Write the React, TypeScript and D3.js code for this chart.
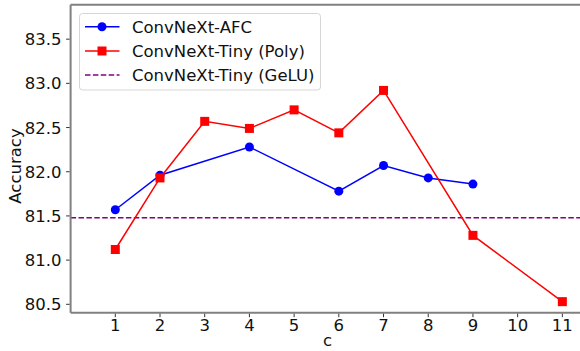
import { useEffect, useRef } from "react";
import * as d3 from "d3";

// values
const afcX: number[] = [1, 2, 4, 6, 7, 8, 9];
const afcY: number[] = [81.57, 81.96, 82.28, 81.78, 82.07, 81.93, 81.86];
const polyX: number[] = [1, 2, 3, 4, 5, 6, 7, 9, 11];
const polyY: number[] = [81.12, 81.93, 82.57, 82.49, 82.7, 82.44, 82.92, 81.28, 80.53];
const geluY = 81.48;
const xTicks: number[] = [1, 2, 3, 4, 5, 6, 7, 8, 9, 10, 11];
const yTicks: number[] = [80.5, 81.0, 81.5, 82.0, 82.5, 83.0, 83.5];
const legendLabels: string[] = ["ConvNeXt-AFC", "ConvNeXt-Tiny (Poly)", "ConvNeXt-Tiny (GeLU)"];

export default function App() {
  const svgRef = useRef<SVGSVGElement>(null);

  useEffect(() => {
    const width = 580;
    const height = 351;
    const margin = { top: 4.7, right: -4.7, bottom: 38.3, left: 70.6 };
    const font = "DejaVu Sans, sans-serif";
    const fs = 16.5;

    const svg = d3.select(svgRef.current).attr("width", width).attr("height", height);
    svg.selectAll("*").remove();

    const x = d3.scaleLinear().domain([0, 11.5]).range([margin.left, width - margin.right]);
    const y = d3.scaleLinear().domain([80.405, 83.89]).range([height - margin.bottom, margin.top]);

    svg.append("rect").attr("width", width).attr("height", height).attr("fill", "white");

    // GeLU baseline
    svg
      .append("line")
      .attr("x1", x(0))
      .attr("x2", x(11.5))
      .attr("y1", y(geluY))
      .attr("y2", y(geluY))
      .attr("stroke", "purple")
      .attr("stroke-width", 1.5)
      .attr("stroke-dasharray", "5.5,2.4");

    const line = d3
      .line<[number, number]>()
      .x((d) => x(d[0]))
      .y((d) => y(d[1]));

    const afc: [number, number][] = afcX.map((v, i) => [v, afcY[i]]);
    const poly: [number, number][] = polyX.map((v, i) => [v, polyY[i]]);

    svg.append("path").datum(afc).attr("d", line).attr("fill", "none").attr("stroke", "blue").attr("stroke-width", 1.5);
    svg
      .selectAll("circle.afc")
      .data(afc)
      .join("circle")
      .attr("cx", (d) => x(d[0]))
      .attr("cy", (d) => y(d[1]))
      .attr("r", 4.5)
      .attr("fill", "blue");

    svg.append("path").datum(poly).attr("d", line).attr("fill", "none").attr("stroke", "red").attr("stroke-width", 1.5);
    svg
      .selectAll("rect.poly")
      .data(poly)
      .join("rect")
      .attr("x", (d) => x(d[0]) - 4.5)
      .attr("y", (d) => y(d[1]) - 4.5)
      .attr("width", 9)
      .attr("height", 9)
      .attr("fill", "red");

    // spines
    const spine = "#808080";
    svg.append("line").attr("x1", x(0)).attr("x2", x(0)).attr("y1", y.range()[0]).attr("y2", y.range()[1]).attr("stroke", spine).attr("stroke-width", 2);
    svg.append("line").attr("x1", x(0)).attr("x2", width).attr("y1", y.range()[0]).attr("y2", y.range()[0]).attr("stroke", spine).attr("stroke-width", 2);
    svg.append("line").attr("x1", x(0)).attr("x2", width).attr("y1", y.range()[1]).attr("y2", y.range()[1]).attr("stroke", spine).attr("stroke-width", 2);

    // x ticks
    const xg = svg.append("g");
    xTicks.forEach((t) => {
      xg.append("line").attr("x1", x(t)).attr("x2", x(t)).attr("y1", y.range()[0] + 1).attr("y2", y.range()[0] + 4.5).attr("stroke", "#333").attr("stroke-width", 1);
      xg.append("text").attr("x", x(t)).attr("y", y.range()[0] + 18.5).attr("text-anchor", "middle").attr("font-family", font).attr("font-size", fs).attr("fill", "#111").text(String(t));
    });

    // y ticks
    const yg = svg.append("g");
    yTicks.forEach((t) => {
      yg.append("line").attr("x1", x(0) - 1).attr("x2", x(0) - 4.5).attr("y1", y(t)).attr("y2", y(t)).attr("stroke", "#333").attr("stroke-width", 1);
      yg.append("text").attr("x", x(0) - 9).attr("y", y(t) + 6).attr("text-anchor", "end").attr("font-family", font).attr("font-size", fs).attr("fill", "#111").text(t.toFixed(1));
    });

    svg.append("text").attr("x", x(5.75)).attr("y", 346).attr("text-anchor", "middle").attr("font-family", font).attr("font-size", fs).attr("fill", "#111").text("c");
    svg
      .append("text")
      .attr("transform", "translate(21,166) rotate(-90)")
      .attr("text-anchor", "middle")
      .attr("font-family", font)
      .attr("font-size", fs)
      .attr("fill", "#111")
      .text("Accuracy");

    // legend
    const lg = svg.append("g");
    lg.append("rect").attr("x", 79.5).attr("y", 13.5).attr("width", 241).attr("height", 76.5).attr("rx", 3).attr("fill", "white").attr("fill-opacity", 0.8).attr("stroke", "#d6d6d6");
    const rows = [26.7, 51, 75];
    const colors = ["blue", "red", "purple"];
    rows.forEach((ry, i) => {
      const ln = lg.append("line").attr("x1", 85).attr("x2", 119.5).attr("y1", ry).attr("y2", ry).attr("stroke", colors[i]).attr("stroke-width", 1.5);
      if (i === 2) ln.attr("stroke-dasharray", "5.5,2.4");
      if (i === 0) lg.append("circle").attr("cx", 102).attr("cy", ry).attr("r", 4.5).attr("fill", "blue");
      if (i === 1) lg.append("rect").attr("x", 97.5).attr("y", ry - 4.5).attr("width", 9).attr("height", 9).attr("fill", "red");
      lg.append("text").attr("x", 132).attr("y", ry + 6).attr("font-family", font).attr("font-size", fs).attr("fill", "#111").text(legendLabels[i]);
    });
  }, []);

  return <svg ref={svgRef} style={{ position: "absolute", left: 0, top: 0 }}></svg>;
}
